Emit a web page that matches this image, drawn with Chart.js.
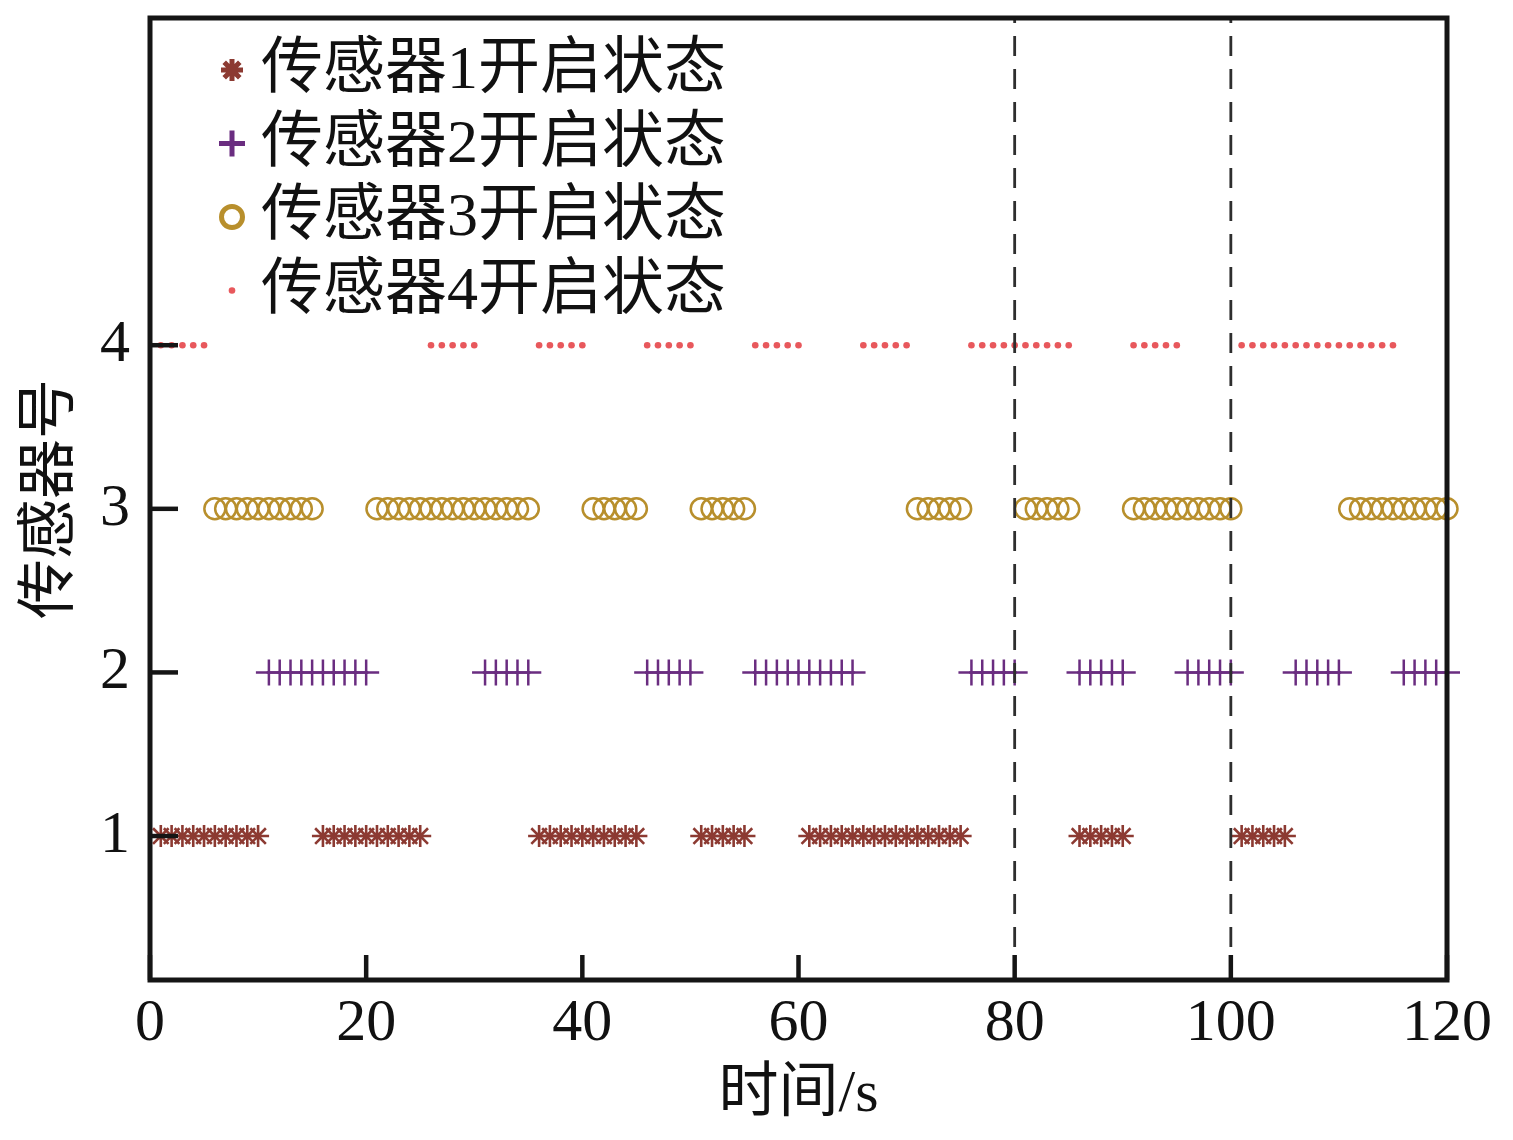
<!DOCTYPE html>
<html>
<head>
<meta charset="utf-8">
<script src="https://cdn.jsdelivr.net/npm/chart.js@4.4.1/dist/chart.umd.min.js"></script>
<style>
  body { margin: 0; background: #fff; }
  canvas { display: block; }
</style>
</head>
<body>
<canvas id="chart" width="1513" height="1140"></canvas>
<script>
// seconds at which each sensor is switched on
var sensor1Times = [1,2,3,4,5,6,7,8,9,10, 16,17,18,19,20,21,22,23,24,25, 36,37,38,39,40,41,42,43,44,45,
    51,52,53,54,55, 61,62,63,64,65,66,67,68,69,70,71,72,73,74,75, 86,87,88,89,90, 101,102,103,104,105];
var sensor2Times = [11,12,13,14,15,16,17,18,19,20, 31,32,33,34,35, 46,47,48,49,50, 56,57,58,59,60,61,62,63,64,65,
    76,77,78,79,80, 86,87,88,89,90, 96,97,98,99,100, 106,107,108,109,110, 116,117,118,119,120];
var sensor3Times = [6,7,8,9,10,11,12,13,14,15, 21,22,23,24,25,26,27,28,29,30,31,32,33,34,35, 41,42,43,44,45,
    51,52,53,54,55, 71,72,73,74,75, 81,82,83,84,85, 91,92,93,94,95,96,97,98,99,100,
    111,112,113,114,115,116,117,118,119,120];
var sensor4Times = [1,2,3,4,5, 26,27,28,29,30, 36,37,38,39,40, 46,47,48,49,50, 56,57,58,59,60, 66,67,68,69,70,
    76,77,78,79,80,81,82,83,84,85, 91,92,93,94,95, 101,102,103,104,105,106,107,108,109,110,111,112,113,114,115];

var seriesLabels = ['传感器1开启状态', '传感器2开启状态', '传感器3开启状态', '传感器4开启状态'];
var sensorIds = [1, 2, 3, 4];
var markerLines = [80, 100];
var xTicks = [0, 20, 40, 60, 80, 100, 120];
var yTicks = [1, 2, 3, 4];
var xMin = 0, xMax = 120, yMin = 0.12, yMax = 6;

var FONT = '"Liberation Serif", "Noto Sans CJK SC", serif';

function toPoints(times, id) {
    var pts = [];
    for (var i = 0; i < times.length; i++) pts.push({ x: times[i], y: id });
    return pts;
}

var datasets = [];

// dashed reference lines (first so they are drawn on top)
for (var k = 0; k < markerLines.length; k++) {
    datasets.push({
        type: 'line',
        isMarker: true,
        data: [{ x: markerLines[k], y: yMin }, { x: markerLines[k], y: yMax }],
        borderColor: '#2e2e2e',
        borderWidth: 2.8,
        borderDash: [20, 13],
        pointRadius: 0,
        fill: false,
        clip: false
    });
}

datasets.push({
    label: seriesLabels[0],
    data: toPoints(sensor1Times, sensorIds[0]),
    pointStyle: 'star',
    pointRadius: 11,
    pointBorderWidth: 2.6,
    borderColor: '#8C3A32',
    backgroundColor: '#8C3A32',
    clip: false
});
datasets.push({
    label: seriesLabels[1],
    data: toPoints(sensor2Times, sensorIds[1]),
    pointStyle: 'cross',
    pointRadius: 13,
    pointBorderWidth: 2.5,
    borderColor: '#6A2D80',
    backgroundColor: '#6A2D80',
    clip: false
});
datasets.push({
    label: seriesLabels[2],
    data: toPoints(sensor3Times, sensorIds[2]),
    pointStyle: 'circle',
    pointRadius: 10.5,
    pointBorderWidth: 2.5,
    borderColor: '#B88F2C',
    backgroundColor: 'rgba(0,0,0,0)',
    clip: false
});
datasets.push({
    label: seriesLabels[3],
    data: toPoints(sensor4Times, sensorIds[3]),
    pointStyle: 'circle',
    pointRadius: 3.3,
    pointBorderWidth: 0,
    borderColor: '#E8585C',
    backgroundColor: '#E8585C',
    clip: false
});

// frame, inward ticks and the legend inside the plot
var framePlugin = {
    id: 'frame',
    afterDraw: function (chart) {
        var ctx = chart.ctx, a = chart.chartArea;
        var xs = chart.scales.x, ys = chart.scales.y;
        ctx.save();
        ctx.strokeStyle = '#151515';
        ctx.lineWidth = 4.5;
        ctx.lineCap = 'butt';
        for (var i = 0; i < yTicks.length; i++) {
            var py = ys.getPixelForValue(yTicks[i]);
            ctx.beginPath(); ctx.moveTo(a.left, py); ctx.lineTo(a.left + 28, py); ctx.stroke();
        }
        for (var j = 0; j < xTicks.length; j++) {
            var px = xs.getPixelForValue(xTicks[j]);
            ctx.beginPath(); ctx.moveTo(px, a.bottom); ctx.lineTo(px, a.bottom - 25); ctx.stroke();
        }
        ctx.lineWidth = 5;
        ctx.strokeRect(a.left, a.top, a.right - a.left, a.bottom - a.top);

        // legend
        var rowY = 70, rowGap = 73.5;
        var n = 0;
        chart.data.datasets.forEach(function (ds) {
            if (ds.isMarker) return;
            var y = rowY + n * rowGap;
            ctx.strokeStyle = ds.borderColor;
            ctx.fillStyle = ds.backgroundColor;
            Chart.helpers.drawPoint(ctx, {
                pointStyle: ds.pointStyle,
                radius: ds.pointStyle === 'cross' ? 13 : ds.pointRadius,
                borderWidth: ds.pointStyle === 'star' ? 2 : ds.pointBorderWidth,
                rotation: 0
            }, 232, y);
            ctx.fillStyle = '#111';
            ctx.font = '62px ' + FONT;
            ctx.textAlign = 'left';
            ctx.textBaseline = 'middle';
            ctx.fillText(ds.label, 261, y + 2);
            n++;
        });
        ctx.restore();
    }
};

new Chart(document.getElementById('chart'), {
    type: 'scatter',
    data: { datasets: datasets },
    plugins: [framePlugin],
    options: {
        responsive: false,
        devicePixelRatio: 1,
        animation: false,
        layout: { padding: { top: 18, right: 66, left: 0, bottom: 0 } },
        plugins: { legend: { display: false }, tooltip: { enabled: false } },
        scales: {
            x: {
                type: 'linear',
                min: xMin, max: xMax,
                afterBuildTicks: function (s) { s.ticks = xTicks.map(function (v) { return { value: v }; }); },
                afterFit: function (s) { s.height = 160; s.paddingLeft = 0; s.paddingRight = 0; },
                grid: { display: false, drawTicks: false },
                border: { display: false },
                ticks: { color: '#111', padding: 8, maxRotation: 0, font: { family: FONT, size: 60 } },
                title: { display: true, text: '时间/s', color: '#111', padding: { top: 0, bottom: 9 },
                         font: { family: FONT, size: 60 } }
            },
            y: {
                type: 'linear',
                min: yMin, max: yMax,
                afterBuildTicks: function (s) { s.ticks = yTicks.map(function (v) { return { value: v }; }); },
                afterFit: function (s) { s.width = 150; s.paddingTop = 0; s.paddingBottom = 0; },
                grid: { display: false, drawTicks: false },
                border: { display: false },
                ticks: { color: '#111', padding: 20, font: { family: FONT, size: 60 } },
                title: { display: true, text: '传感器号', color: '#111', padding: { top: 16, bottom: 0 },
                         font: { family: FONT, size: 60 } }
            }
        }
    }
});
</script>
</body>
</html>
